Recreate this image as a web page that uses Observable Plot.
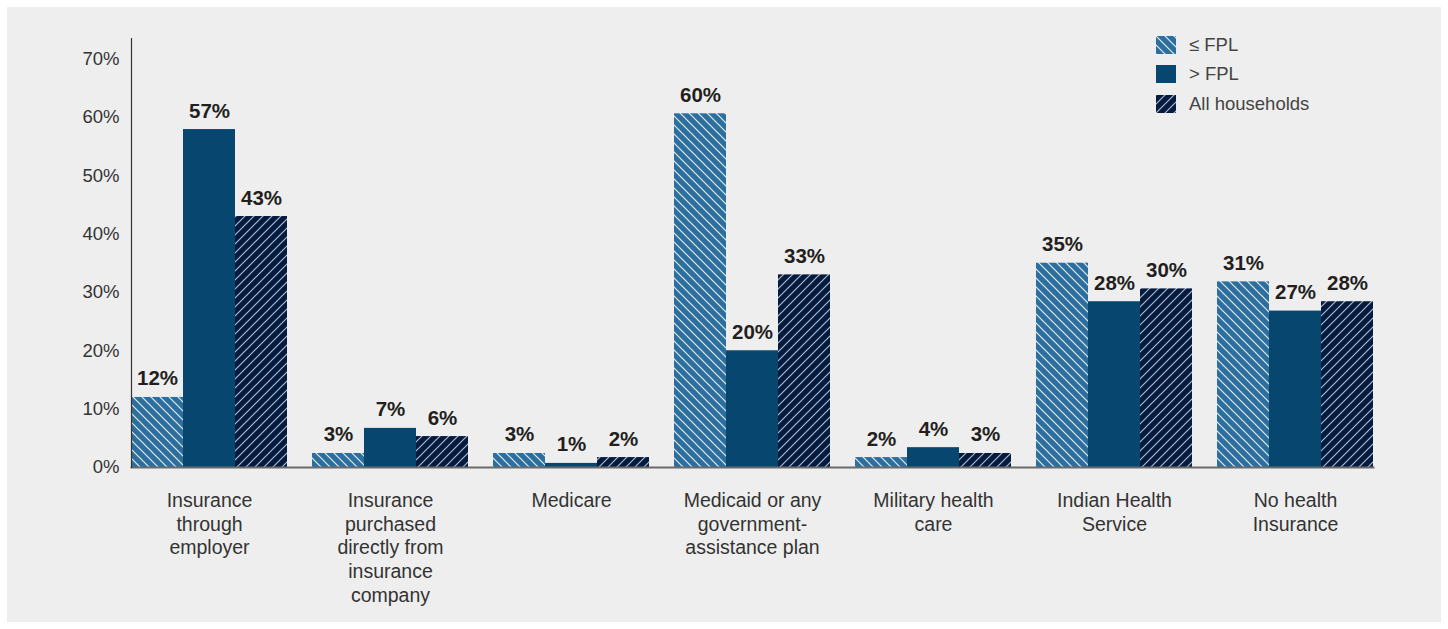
<!DOCTYPE html>
<html><head><meta charset="utf-8">
<script src="https://cdn.jsdelivr.net/npm/d3@7"></script>
<script src="https://cdn.jsdelivr.net/npm/@observablehq/plot@0.6"></script>
<style>
body{margin:0;background:#fff;font-family:"Liberation Sans",Arial,sans-serif}
#panel{position:absolute;left:7px;top:7px;width:1434px;height:615px;background:#eeeeee}
#chart{position:absolute;left:0;top:0}
.lg{position:absolute;left:1149px;height:18px;display:flex;align-items:center;font-size:18.5px;color:#444;white-space:nowrap}
.lg svg{margin-right:13px;display:block}
</style></head><body>
<svg width="0" height="0" style="position:absolute">
  <defs>
    <pattern id="pBelow" patternUnits="userSpaceOnUse" width="9" height="9">
      <rect width="9" height="9" fill="#2c6e9e"/>
      <path d="M0,0L9,9M-1,8L1,10M8,-1L10,1" stroke="#e4ecf3" stroke-width="1.2"/>
    </pattern>
    <pattern id="pAll" patternUnits="userSpaceOnUse" width="9" height="9">
      <rect width="9" height="9" fill="#041b40"/>
      <path d="M0,9L9,0M-1,1L1,-1M8,10L10,8" stroke="#aeb8c9" stroke-width="1.2"/>
    </pattern>
  </defs>
</svg>
<div id="panel"><div id="chart"></div><div id="legend"></div></div>
<script>
const categories = ["employer", "direct", "medicare", "medicaid", "military", "ihs", "none"];
const categoryLabels = [
  "Insurance\nthrough\nemployer",
  "Insurance\npurchased\ndirectly from\ninsurance\ncompany",
  "Medicare",
  "Medicaid or any\ngovernment-\nassistance plan",
  "Military health\ncare",
  "Indian Health\nService",
  "No health\nInsurance"
];
const series = ["≤ FPL", "> FPL", "All households"];
const belowFPL = [12.0, 2.4, 2.4, 60.6, 1.7, 35.0, 31.8];
const aboveFPL = [57.9, 6.7, 0.7, 20.0, 3.4, 28.4, 26.8];
const allHouseholds = [43.0, 5.3, 1.7, 33.0, 2.4, 30.6, 28.4];
const belowLabels = ["12%", "3%", "3%", "60%", "2%", "35%", "31%"];
const aboveLabels = ["57%", "7%", "1%", "20%", "4%", "28%", "27%"];
const allLabels = ["43%", "6%", "2%", "33%", "3%", "30%", "28%"];
const yTicks = [0, 10, 20, 30, 40, 50, 60, 70];
const seriesFills = ["url(#pBelow)", "#07466e", "url(#pAll)"];

const seriesValues = [belowFPL, aboveFPL, allHouseholds];
const seriesLabels = [belowLabels, aboveLabels, allLabels];
const data = [];
categories.forEach((c, i) => {
  series.forEach((s, j) => {
    data.push({category: c, series: s, value: seriesValues[j][i], label: seriesLabels[j][i]});
  });
});
const labelMap = new Map(categories.map((c, i) => [c, categoryLabels[i]]));
const font = "Liberation Sans, Arial, sans-serif";

const plot = Plot.plot({
  width: 1434, height: 615,
  marginLeft: 109, marginRight: 53, marginTop: 31, marginBottom: 155,
  style: {background: "transparent", fontFamily: font, overflow: "visible"},
  fx: {domain: categories, paddingInner: 0.14, paddingOuter: 0.075, label: null},
  x: {domain: series, padding: 0, axis: null},
  y: {domain: [0, 73.5], label: null},
  color: {domain: series, range: seriesFills},
  marks: [
    Plot.axisY({ticks: yTicks, tickFormat: d => d + "%", tickSize: 0, tickPadding: 12, fontSize: 18.5, fill: "#333", label: null}),
    Plot.axisFx({anchor: "bottom", tickSize: 0, tickPadding: 22, fontSize: 19.5, lineHeight: 1.23, fill: "#333", tickFormat: c => labelMap.get(c), label: null}),
    Plot.barY(data, {fx: "category", x: "series", y: "value", fill: "series"}),
    Plot.text(data, {fx: "category", x: "series", y: "value", text: "label", dy: -12, lineAnchor: "bottom", fontSize: 20.5, fontWeight: "bold", fill: "#231f20"}),
    Plot.frame({anchor: "bottom", facet: "super", stroke: "#6a6a6a", strokeWidth: 2}),
    Plot.frame({anchor: "left", facet: "super", stroke: "#333", strokeWidth: 1.2})
  ]
});
document.getElementById("chart").appendChild(plot);

const legend = document.getElementById("legend");
const rowTops = [29, 58, 88];
series.forEach((s, j) => {
  const row = document.createElement("div");
  row.className = "lg";
  row.style.top = rowTops[j] + "px";
  row.innerHTML = `<svg width="20" height="18"><rect width="20" height="18" fill="${seriesFills[j]}"/></svg><span>${s}</span>`;
  legend.appendChild(row);
});
</script>
</body></html>
